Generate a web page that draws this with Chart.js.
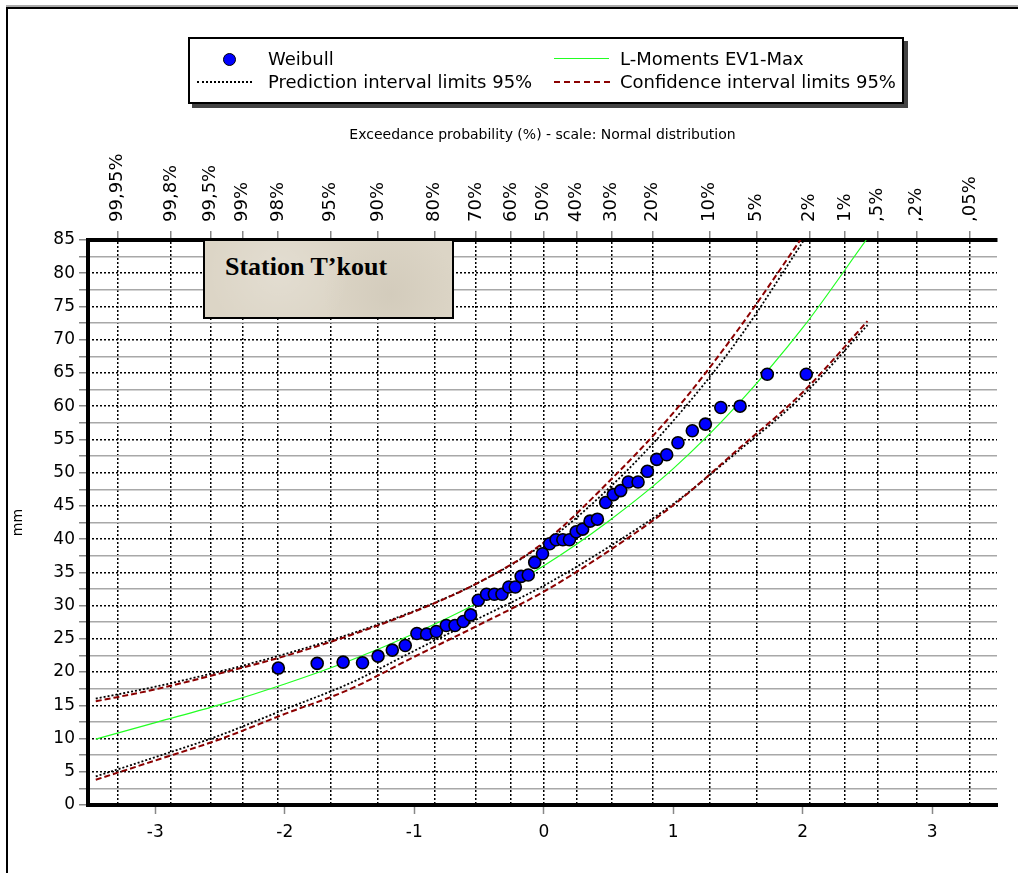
<!DOCTYPE html>
<html><head><meta charset="utf-8">
<script src="https://cdn.jsdelivr.net/npm/chart.js@4.4.1/dist/chart.umd.min.js"></script>
<style>
html,body{margin:0;padding:0;background:#fff;width:1018px;height:873px;overflow:hidden;}
#wrap{position:absolute;left:0;top:0;width:1018px;height:873px;}
#frame{position:absolute;left:6px;top:7px;width:1100px;height:1000px;border-left:2px solid #000;border-top:2px solid #000;box-shadow:0 -2px 0 #aaa;pointer-events:none;}
#legend{position:absolute;left:188px;top:37px;width:712px;height:63px;border:2px solid #000;background:#fff;box-shadow:4px 4px 0 #444;font-family:'DejaVu Sans',sans-serif;font-size:18px;color:#000;z-index:3;}
.lt{position:absolute;white-space:nowrap;line-height:20px;}
.sw{position:absolute;height:0;}
#station{position:absolute;left:203px;top:239px;width:247px;height:76px;border:2px solid #000;background:#dcd5c6;z-index:3;
background-image:radial-gradient(circle at 30% 40%, rgba(255,255,255,0.2) 0, rgba(255,255,255,0) 40%),radial-gradient(circle at 75% 70%, rgba(160,150,130,0.15) 0, rgba(160,150,130,0) 35%);}
#station span{position:absolute;left:20px;top:11px;font-family:'Liberation Serif',serif;font-weight:bold;font-size:26px;line-height:30px;white-space:nowrap;color:#000;}
</style></head>
<body>
<div id="wrap"><canvas id="c" width="1018" height="873"></canvas></div>
<div id="frame"></div>
<div id="legend">
  <div style="position:absolute;left:33px;top:14px;width:11px;height:11px;border-radius:50%;background:#0000ff;border:1px solid #000;"></div>
  <div class="lt" style="left:78px;top:10px;">Weibull</div>
  <div class="sw" style="left:364px;top:19px;width:55px;border-top:1.5px solid #22ff22;"></div>
  <div class="lt" style="left:430px;top:10px;">L-Moments EV1-Max</div>
  <div class="sw" style="left:7px;top:42px;width:55px;border-top:2px dotted #000;"></div>
  <div class="lt" style="left:78px;top:33px;">Prediction interval limits 95%</div>
  <div class="sw" style="left:364px;top:42px;width:56px;border-top:2px dashed #8b0000;"></div>
  <div class="lt" style="left:430px;top:33px;">Confidence interval limits 95%</div>
</div>
<div id="station"><span>Station T’kout</span></div>
<script>
// ---- Data ----
// top axis: exceedance probabilities (%) and their labels
const probValues = [99.95, 99.8, 99.5, 99, 98, 95, 90, 80, 70, 60, 50, 40, 30, 20, 10, 5, 2, 1, 0.5, 0.2, 0.05];
const probLabels = ['99,95%','99,8%','99,5%','99%','98%','95%','90%','80%','70%','60%','50%','40%','30%','20%','10%','5%','2%','1%',',5%',',2%',',05%'];
// bottom axis ticks (standard normal variate)
const zTicks = [-3, -2, -1, 0, 1, 2, 3];
// y axis ticks (mm), major and minor
const mmTicks = [0,2.5,5,7.5,10,12.5,15,17.5,20,22.5,25,27.5,30,32.5,35,37.5,40,42.5,45,47.5,50,52.5,55,57.5,60,62.5,65,67.5,70,72.5,75,77.5,80,82.5,85];

// Weibull plotting positions: normal variate and observed mm
const weibullZ = [-2.05,-1.75,-1.55,-1.40,-1.28,-1.17,-1.07,-0.98,-0.905,-0.83,-0.753,-0.686,-0.622,-0.565,-0.506,-0.442,-0.382,-0.323,-0.27,-0.22,-0.175,-0.12,-0.07,-0.01,0.045,0.095,0.147,0.198,0.25,0.30,0.357,0.414,0.478,0.537,0.594,0.653,0.728,0.800,0.872,0.949,1.036,1.147,1.248,1.367,1.516,1.726,2.027];
const weibullMm = [20.6,21.3,21.5,21.4,22.4,23.3,24.0,25.8,25.7,26.1,27.0,27.0,27.6,28.6,30.8,31.7,31.7,31.7,32.8,32.8,34.4,34.6,36.5,37.8,39.3,39.9,39.9,39.9,41.1,41.5,42.7,43.0,45.5,46.7,47.3,48.6,48.6,50.2,52.0,52.7,54.5,56.3,57.3,59.8,60.0,64.8,64.8];

// L-Moments EV1-Max fitted line
const fitZ  = [-3.46,-3.0,-2.5,-2.0,-1.5,-1.0,-0.5,0,0.5,1.0,1.5,2.0,2.49];
const fitMm = [9.9,12.4,15.1,18.2,21.7,25.8,30.5,36.0,42.7,50.6,60.3,71.8,85.0];

// upper limits
const upperZ = [-3.46,-3.0,-2.5,-2.0,-1.5,-1.0,-0.5,0,0.5,1.0,1.5,2.02];
const confUpper = [15.6,17.4,19.8,22.4,25.5,29.1,33.5,39.5,48.6,59.0,71.5,86.1];
const predUpper = [16.0,17.8,20.1,22.7,25.7,29.2,33.5,39.3,47.6,57.8,70.0,85.3];
// lower limits
const lowerZ = [-3.46,-3.0,-2.5,-2.0,-1.5,-1.0,-0.5,0,0.5,1.0,1.5,2.0,2.5];
const confLower = [3.8,6.7,9.9,13.7,17.4,22.3,27.1,32.1,38.2,45.1,53.5,62.1,72.8];
const predLower = [4.3,7.2,10.5,14.4,18.3,23.2,28.1,33.0,38.8,45.3,53.2,61.6,72.2];

// ---- helpers ----
function normInv(p){ // Acklam inverse normal CDF
  const a=[-3.969683028665376e+01,2.209460984245205e+02,-2.759285104469687e+02,1.383577518672690e+02,-3.066479806614716e+01,2.506628277459239e+00];
  const b=[-5.447609879822406e+01,1.615858368580409e+02,-1.556989798598866e+02,6.680131188771972e+01,-1.328068155288572e+01];
  const c=[-7.784894002430293e-03,-3.223964580411365e-01,-2.400758277161838e+00,-2.549732539343734e+00,4.374664141464968e+00,2.938163982698783e+00];
  const d=[7.784695709041462e-03,3.224671290700398e-01,2.445134137142996e+00,3.754408661907416e+00];
  const pl=0.02425, ph=1-pl; let q,r;
  if(p<pl){q=Math.sqrt(-2*Math.log(p));return (((((c[0]*q+c[1])*q+c[2])*q+c[3])*q+c[4])*q+c[5])/((((d[0]*q+d[1])*q+d[2])*q+d[3])*q+1);}
  if(p<=ph){q=p-0.5;r=q*q;return (((((a[0]*r+a[1])*r+a[2])*r+a[3])*r+a[4])*r+a[5])*q/(((((b[0]*r+b[1])*r+b[2])*r+b[3])*r+b[4])*r+1);}
  q=Math.sqrt(-2*Math.log(1-p));return -(((((c[0]*q+c[1])*q+c[2])*q+c[3])*q+c[4])*q+c[5])/((((d[0]*q+d[1])*q+d[2])*q+d[3])*q+1);
}
const pts = (xs, ys) => xs.map((x,i)=>({x:x, y:ys[i]}));
const XMIN = -3.52, XMAX = 3.5;
const FONT = 'DejaVu Sans';
const TOP_SIZE = 18;

const chart = new Chart(document.getElementById('c'), {
  type: 'scatter',
  data: { datasets: [
    { label:'Weibull', data: pts(weibullZ, weibullMm), showLine:false, pointRadius:6, pointHoverRadius:6,
      backgroundColor:'#0000ff', borderColor:'#000', borderWidth:1.6 },
    { label:'L-Moments EV1-Max', data: pts(fitZ, fitMm), showLine:true, pointRadius:0, borderColor:'#22ff22', borderWidth:1.2, cubicInterpolationMode:'monotone' },
    { label:'Confidence upper', data: pts(upperZ, confUpper), showLine:true, pointRadius:0, borderColor:'#8b0000', borderWidth:2, borderDash:[6,3], cubicInterpolationMode:'monotone' },
    { label:'Confidence lower', data: pts(lowerZ, confLower), showLine:true, pointRadius:0, borderColor:'#8b0000', borderWidth:2, borderDash:[6,3], cubicInterpolationMode:'monotone' },
    { label:'Prediction upper', data: pts(upperZ, predUpper), showLine:true, pointRadius:0, borderColor:'#000', borderWidth:1.8, borderDash:[2,2], cubicInterpolationMode:'monotone' },
    { label:'Prediction lower', data: pts(lowerZ, predLower), showLine:true, pointRadius:0, borderColor:'#000', borderWidth:1.8, borderDash:[2,2], cubicInterpolationMode:'monotone' }
  ]},
  options: {
    responsive:false, animation:false, devicePixelRatio:1,
    layout:{ padding:{ left:10, right:21, top:127, bottom:18 } },
    plugins:{ legend:{display:false}, tooltip:{enabled:false} },
    scales:{
      x:{ type:'linear', position:'bottom', min:XMIN, max:XMAX,
        afterBuildTicks:(s)=>{ s.ticks = zTicks.map(v=>({value:v})); },
        afterFit:(s)=>{ s.height = 50; },
        grid:{ drawOnChartArea:false, drawTicks:true, tickLength:9, tickColor:'#888', tickWidth:1.5 },
        border:{ display:true, color:'#000', width:4 },
        ticks:{ color:'#000', font:{family:FONT, size:17}, padding:8, maxRotation:0, autoSkip:false,
          callback:(v)=>String(v) }
      },
      x2:{ type:'linear', position:'top', min:XMIN, max:XMAX,
        afterBuildTicks:(s)=>{ s.ticks = probValues.map(p=>({value: normInv(1 - p/100)})); },
        afterFit:(s)=>{ s.height = 113; },
        grid:{ drawOnChartArea:true, color:'#000', lineWidth:1.5, drawTicks:true, tickLength:9, tickColor:'#888', tickWidth:1.5 },
        border:{ display:true, color:'#000', width:4, dash:[2,2] },
        ticks:{ color:'#000', font:{family:FONT, size:TOP_SIZE}, padding:9, minRotation:90, maxRotation:90, autoSkip:false,
          labelOffset: TOP_SIZE*1.2,
          callback:(v,i)=>probLabels[i] },
        title:{ display:true, text:'Exceedance probability (%) - scale: Normal distribution', color:'#000', font:{family:FONT, size:14}, padding:0 }
      },
      y:{ type:'linear', position:'left', min:0, max:85,
        afterBuildTicks:(s)=>{ s.ticks = mmTicks.map(v=>({value:v})); },
        afterFit:(s)=>{ s.width = 78; },
        grid:{ drawOnChartArea:true, color:(ctx)=> (ctx.tick && ctx.tick.value % 5 === 0) ? 'rgba(0,0,0,0)' : '#a8a8a8',
          lineWidth:1.5, drawTicks:true, tickLength:9, tickColor:'#888', tickWidth:1.5 },
        border:{ display:true, color:'#000', width:4 },
        ticks:{ color:'#000', font:{family:FONT, size:17}, padding:4, autoSkip:false,
          callback:(v)=> (v % 5 === 0) ? String(v) : '' },
        title:{ display:true, text:'mm', color:'#000', font:{family:FONT, size:14}, padding:{top:0,bottom:0} }
      },
      y2:{ type:'linear', position:'right', min:0, max:85,
        afterBuildTicks:(s)=>{ s.ticks = mmTicks.filter(v=>v%5===0).map(v=>({value:v})); },
        afterFit:(s)=>{ s.width = 0; },
        grid:{ drawOnChartArea:true, color:'#000', lineWidth:1.5, drawTicks:false },
        border:{ display:false, dash:[2,2] },
        ticks:{ display:false }
      }
    }
  }
});
</script>
</body></html>
